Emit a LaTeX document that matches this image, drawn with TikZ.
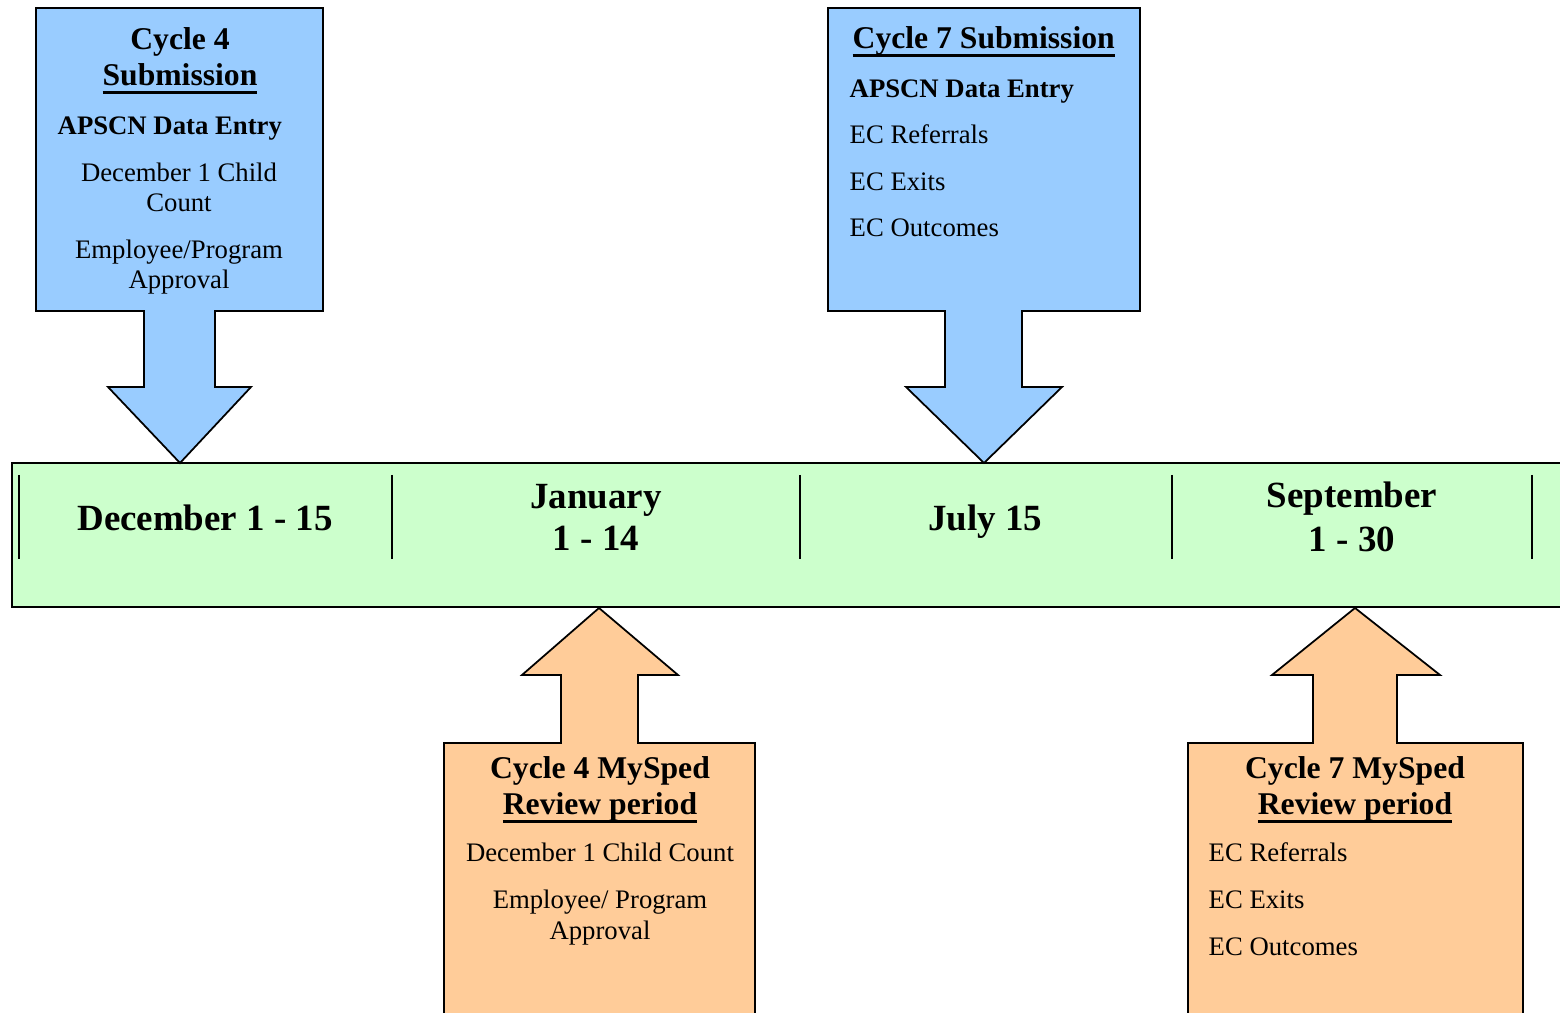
\documentclass[tikz,border=0pt]{standalone}
\usepackage{fontspec}
\setmainfont{Liberation Serif}
\definecolor{subblue}{HTML}{99CCFF}
\definecolor{linegreen}{HTML}{CCFFCC}
\definecolor{revorange}{HTML}{FFCC99}
\newcommand{\ulword}[1]{\leavevmode\setbox0\hbox{#1}\rlap{\rule[-2.3pt]{\wd0}{0.85pt}}\box0}
\tikzset{
  callout/.style={draw=black, line width=0.5pt, line join=miter},
  title/.style={font=\fontsize{9}{10}\selectfont\bfseries, anchor=base, inner sep=0pt, yshift=-0.5pt},
  item/.style={font=\fontsize{7.6}{9}\selectfont, anchor=base, inner sep=0pt, yshift=-0.4pt},
  itemb/.style={item, font=\fontsize{7.6}{9}\selectfont\bfseries},
  datetext/.style={font=\fontsize{10.5}{12}\selectfont\bfseries, anchor=base, inner sep=0pt},
  divider/.style={line width=0.6pt}
}

\begin{document}
\begin{tikzpicture}[x=0.01cm, y=-0.01cm]
  \useasboundingbox (0,0) rectangle (1560,1013);

  % timeline bar
  \draw[callout, fill=linegreen] (12,463) rectangle (1575,607);
  \foreach \dx in {19,392,800,1172,1532}
    \draw[divider] (\dx,475) -- (\dx,559);
  \node[datetext] (dec) at (205,531) {December 1 - 15};
  \node[datetext] (jan) at (596,509) {January};
  \node[datetext] (janr) at (596,551) {1 - 14};
  \node[datetext] (jul) at (985,531) {July 15};
  \node[datetext] (sep) at (1352,508) {September};
  \node[datetext] (sepr) at (1352,552) {1 - 30};

  % cycle 4 submission
  \draw[callout, fill=subblue] (36,8) -- (323,8) -- (323,311) -- (215,311) -- (215,387)
    -- (251,387) -- (180,463) -- (108,387) -- (144,387) -- (144,311) -- (36,311) -- cycle;
  \node[title] (c4) at (180,48) {Cycle 4};
  \node[title] (c4s) at (180,84) {\ulword{Submission}};
  \node[itemb, anchor=base west] (c4a) at (57,133) {APSCN Data Entry};
  \node[item] (c4d) at (179,180) {December 1 Child};
  \node[item] (c4dd) at (179,210) {Count};
  \node[item] (c4e) at (179,257) {Employee/Program};
  \node[item] (c4ee) at (179,287) {Approval};

  % cycle 7 submission
  \draw[callout, fill=subblue] (828,8) -- (1140,8) -- (1140,311) -- (1022,311) -- (1022,387)
    -- (1062,387) -- (984,463) -- (906,387) -- (945,387) -- (945,311) -- (828,311) -- cycle;
  \node[title, anchor=base west] (c7) at (852,47) {\ulword{Cycle 7 Submission}};
  \node[itemb, anchor=base west] (c7a) at (849,96) {APSCN Data Entry};
  \node[item, anchor=base west] (c7r) at (849,142) {EC Referrals};
  \node[item, anchor=base west] (c7x) at (849,189) {EC Exits};
  \node[item, anchor=base west] (c7o) at (849,235) {EC Outcomes};

  % cycle 4 review
  \draw[callout, fill=revorange] (444,1030) -- (444,743) -- (561,743) -- (561,675) -- (522,675)
    -- (599,608) -- (678,675) -- (638,675) -- (638,743) -- (755,743) -- (755,1030);
  \node[title] (r4) at (600,777) {Cycle 4 MySped};
  \node[title] (r4r) at (600,813) {\ulword{Review period}};
  \node[item] (r4d) at (600,860) {December 1 Child Count};
  \node[item] (r4e) at (600,907) {Employee/ Program};
  \node[item] (r4ee) at (600,938) {Approval};

  % cycle 7 review
  \draw[callout, fill=revorange] (1188,1030) -- (1188,743) -- (1313,743) -- (1313,675) -- (1272,675)
    -- (1355,608) -- (1440,675) -- (1397,675) -- (1397,743) -- (1523,743) -- (1523,1030);
  \node[title] (r7) at (1355,777) {Cycle 7 MySped};
  \node[title] (r7r) at (1355,813) {\ulword{Review period}};
  \node[item, anchor=base west] (r7f) at (1208,860) {EC Referrals};
  \node[item, anchor=base west] (r7x) at (1208,907) {EC Exits};
  \node[item, anchor=base west] (r7o) at (1208,954) {EC Outcomes};
\end{tikzpicture}
\end{document}
